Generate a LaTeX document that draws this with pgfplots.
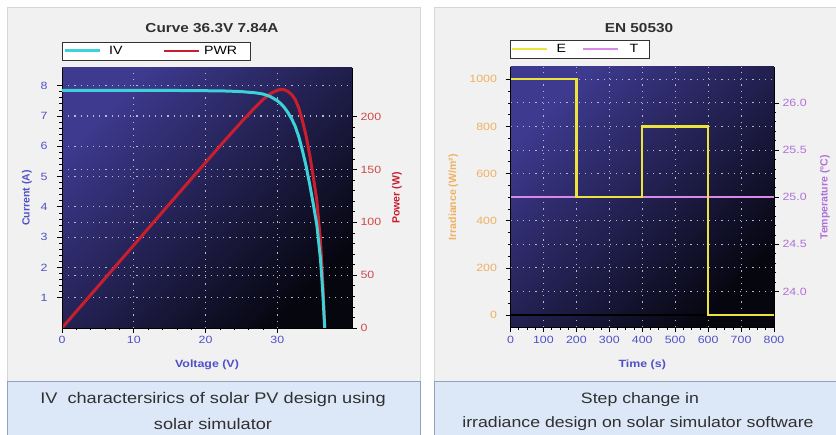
\documentclass[border=0pt]{standalone}
\usepackage{fontspec}
\setmainfont{Liberation Sans}[FakeStretch=1.18]
\newfontfamily\rotfont{Liberation Sans}
\usepackage{pgfplots}
\pgfplotsset{compat=1.18}
\definecolor{panelbg}{HTML}{F1F1F1}
\definecolor{panelline}{HTML}{D6D6D6}
\definecolor{capbg}{HTML}{DCE8F7}
\definecolor{capborder}{HTML}{8FA4BC}
\definecolor{bgtop}{HTML}{3E3A90}
\definecolor{bgbot}{HTML}{06060F}
\definecolor{ivc}{HTML}{3CD2D8}
\definecolor{pwrc}{HTML}{C81E2E}
\definecolor{ec}{HTML}{ECE43C}
\definecolor{tc}{HTML}{D888E8}
\definecolor{bluelab}{HTML}{5050C8}
\definecolor{redlab}{HTML}{D04848}
\definecolor{orangelab}{HTML}{F0B060}
\definecolor{purplelab}{HTML}{B070D8}
\definecolor{gridc}{HTML}{B8B8D0}
\definecolor{captext}{HTML}{303030}

\pgfplotsset{
  common/.style={
    scale only axis,
    anchor=south west,
    /pgf/number format/assume math mode=true,
    /pgf/number format/1000 sep={},
    tick align=outside,
    tick style={black, line width=0.6pt},
    major tick length=5pt, minor tick length=2.5pt,
    ticklabel style={font=\fontsize{10.5}{12}\selectfont},
    axis line style={black, line width=0.6pt},
    grid style={gridc, line width=0.9pt, dash pattern=on 1.2pt off 5pt},
    xlabel style={font=\fontsize{10.5}{12}\selectfont\bfseries, text=bluelab, at={(axis description cs:0.5,0)}, anchor=center, yshift=-37pt},
    legend columns=2,
    legend image code/.code={\draw[##1] (0pt,0pt) -- (35pt,0pt);},
    extra x tick labels={}, extra y tick labels={},
    extra x tick style={grid=major, major tick length=0pt},
    extra y tick style={grid=major, major tick length=0pt},
  },
  darkbg/.style={axis background/.style={shade, top color=bgtop, bottom color=bgbot, shading angle=45}},
}

\begin{document}
\begin{tikzpicture}
\useasboundingbox (0pt,0pt) rectangle (836pt,435pt);
\fill[white] (0pt,0pt) rectangle (836pt,435pt);
% panels
\filldraw[fill=panelbg, draw=panelline] (7pt,54pt) rectangle (420pt,428pt);
\filldraw[fill=panelbg, draw=panelline] (434pt,54pt) rectangle (845pt,428pt);
\filldraw[fill=capbg, draw=capborder] (7pt,-5pt) rectangle (420pt,54pt);
\filldraw[fill=capbg, draw=capborder] (434pt,-5pt) rectangle (845pt,54pt);
% titles
\node[font=\fontsize{13}{15}\selectfont\bfseries, text=captext] at (212pt,407pt) {Curve 36.3V 7.84A};
\node[font=\fontsize{13}{15}\selectfont\bfseries, text=captext] at (639pt,407pt) {EN 50530};
% captions
\node[font=\fontsize{15.4}{17}\selectfont, text=captext] at (213pt,35pt) {IV\ \ charactersirics of solar PV design using};
\node[font=\fontsize{15.4}{17}\selectfont, text=captext] at (213pt,11pt) {solar simulator};
\node[font=\fontsize{15}{17}\selectfont, text=captext] at (640pt,35pt) {Step change in};
\node[font=\fontsize{15}{17}\selectfont, text=captext] at (638pt,11pt) {irradiance design on solar simulator software};

%================ LEFT PANEL =================
\begin{axis}[common, darkbg, at={(62pt,107pt)}, width=290pt, height=260pt,
  xmin=0, xmax=40.4, ymin=0, ymax=246,
  axis x line*=bottom, axis y line*=right,
  xtick={0,10,20,30}, minor x tick num=4,
  ytick={0,50,100,150,200}, minor y tick num=4,
  xticklabel style={text=bluelab}, yticklabel style={text=redlab},
  extra x ticks={10,20,30},
  extra y ticks={50,100,150,200,28.67,57.34,86.01,114.68,143.35,172.02,200.69,229.36},
  xlabel={Voltage (V)},
  ylabel={\rotfont\bfseries Power (W)},
  ylabel style={font=\fontsize{10.5}{12}\selectfont, text=pwrc, at={(axis description cs:1.155,0.5)}, anchor=center},
]
\addplot[pwrc, line width=3pt] coordinates {
(0,0) (5,39.2) (10,78.4) (15,117.6) (20,156.6) (23,179.9) (25,195.0) (27,209.5)
(28,216.2) (29,221.6) (30,225.0) (30.5,225.7) (31,225.4) (31.5,223.7) (32,220.8)
(32.5,216.1) (33,207.9) (33.5,196.0) (34,181.9) (34.5,163.9) (35,143.5)
(35.5,120.7) (36,82.8) (36.3,47.2) (36.6,0)};
\end{axis}

\begin{axis}[common, at={(62pt,107pt)}, width=290pt, height=260pt,
  xmin=0, xmax=40.4, ymin=0, ymax=8.58,
  axis x line=none, axis y line*=left,
  ytick={1,2,3,4,5,6,7,8}, minor y tick num=4,
  yticklabel style={text=bluelab, xshift=-6pt},
  ylabel={\rotfont\bfseries Current (A)},
  ylabel style={font=\fontsize{10.5}{12}\selectfont, text=bluelab, at={(axis description cs:-0.1207,0.5)}, anchor=center},
  legend style={at={(axis description cs:0,1)}, anchor=south west, yshift=8pt, draw=black!80, fill=white,
    font=\fontsize{12}{13}\selectfont, inner xsep=1pt, inner ysep=1pt,
    nodes={inner xsep=4pt, inner ysep=3pt},
    /tikz/every even column/.append style={column sep=36pt}},
]
\addplot[ivc, line width=3pt] coordinates {
(0,7.84) (5,7.84) (10,7.84) (15,7.84) (20,7.83) (23,7.82) (25,7.80) (27,7.76)
(28,7.72) (29,7.64) (30,7.50) (30.5,7.40) (31,7.27) (31.5,7.10) (32,6.90)
(32.5,6.65) (33,6.30) (33.5,5.85) (34,5.35) (34.5,4.75) (35,4.10)
(35.5,3.40) (36,2.30) (36.3,1.30) (36.6,0)};
\addlegendentry{\kern4pt IV}
\addlegendimage{pwrc, line width=2.5pt}
\addlegendentry{PWR\kern8pt}
\end{axis}

%================ RIGHT PANEL =================
\begin{axis}[common, darkbg, at={(510.5pt,107.5pt)}, width=263.5pt, height=260.5pt,
  xmin=0, xmax=800, ymin=23.6175, ymax=26.38,
  axis x line*=bottom, axis y line*=right,
  xtick={0,100,200,300,400,500,600,700,800}, minor x tick num=3,
  xticklabel style={text=bluelab},
  ytick={24,24.5,25,25.5,26}, minor y tick num=4,
  yticklabel style={text=purplelab, /pgf/number format/.cd, fixed, fixed zerofill, precision=1},
  extra x ticks={100,200,300,400,500,600,700},
  extra y ticks={24,24.25,24.5,24.75,25.25,25.5,25.75,26,26.25},
  xlabel={Time (s)},
  ylabel={\rotfont\bfseries Temperature (°C)},
  ylabel style={font=\fontsize{10.5}{12}\selectfont, text=purplelab, at={(axis description cs:1.1935,0.5)}, anchor=center},
]
\addplot[tc, line width=2.5pt] coordinates {(0,25) (800,25)};
\end{axis}

\begin{axis}[common, at={(510.5pt,107.5pt)}, width=263.5pt, height=260.5pt,
  xmin=0, xmax=800, ymin=-53, ymax=1052,
  axis x line=none, axis y line*=left,
  ytick={0,200,400,600,800,1000}, minor y tick num=3,
  yticklabel style={text=orangelab, xshift=-5pt},
  ylabel={\rotfont\bfseries Irradiance (W/m²)},
  ylabel style={font=\fontsize{10.5}{12}\selectfont, text=orangelab, at={(axis description cs:-0.2163,0.5)}, anchor=center},
  legend style={at={(axis description cs:0,1)}, anchor=south west, yshift=9pt, xshift=-0.5pt, draw=black!80, fill=white,
    font=\fontsize{12}{13}\selectfont, inner xsep=1pt, inner ysep=1pt,
    nodes={inner xsep=4pt, inner ysep=3pt},
    /tikz/every even column/.append style={column sep=12pt}},
]
\addplot[black, line width=1.2pt, forget plot] coordinates {(0,0) (800,0)};
\addplot[ec, line width=2.5pt] coordinates {(0,1000) (200,1000) (200,500) (400,500) (400,800) (600,800) (600,0) (800,0)};
\addlegendentry{\kern4pt E}
\addlegendimage{tc, line width=2.5pt}
\addlegendentry{\kern6pt T\kern6pt}
\end{axis}
\end{tikzpicture}
\end{document}
